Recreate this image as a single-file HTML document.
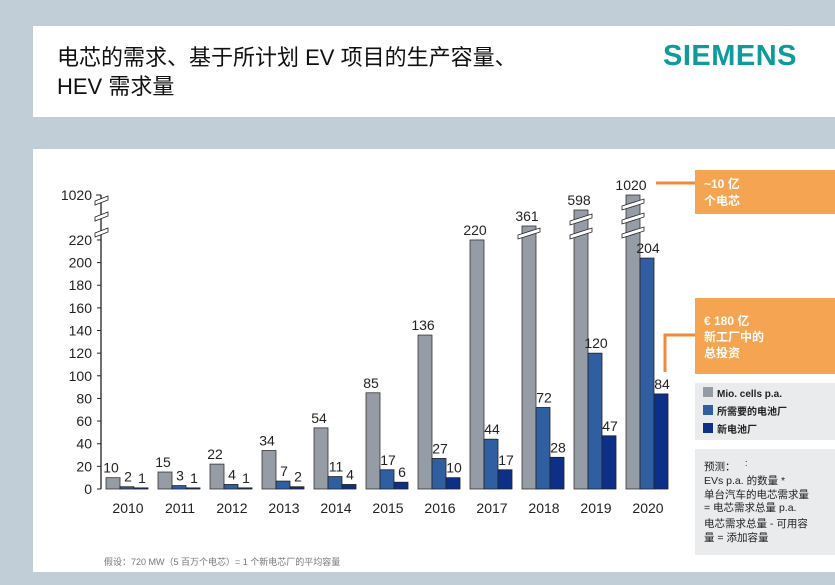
<!DOCTYPE html>
<html><head><meta charset="utf-8">
<style>
body{margin:0;width:835px;height:585px;background:#c2ced7;overflow:hidden;font-family:"Liberation Sans","Noto Sans CJK SC",sans-serif;}
.hd{position:absolute;left:33px;top:26px;width:802px;height:91px;background:#fff;}
.t{position:absolute;left:24px;top:17px;font-size:22px;line-height:29px;color:#111;}
.logo{position:absolute;left:630px;top:14px;font-size:29px;font-weight:bold;color:#0f9a9b;letter-spacing:0.5px;}
.ch{position:absolute;left:33px;top:149px;width:802px;height:423px;background:#fff;}
svg{position:absolute;left:0;top:0;}
</style></head><body>
<div class="hd"><div class="t">电芯的需求、基于所计划 EV 项目的生产容量、<br>HEV 需求量</div><div class="logo">SIEMENS</div></div>
<div class="ch"></div>
<svg id="s" width="835" height="585" font-family="Liberation Sans, Noto Sans CJK SC, sans-serif"></svg>
<script>
var s='';
var g=[10,15,22,34,54,85,136,220,361,598,1020],b=[2,3,4,7,11,17,27,44,72,120,204],d=[1,1,1,2,4,6,10,17,28,47,84];
var brk=[226,210,195];
function Y(v){return 489-v*1.132;}
// axis
s+='<line x1="101" y1="489" x2="101" y2="195" stroke="#222" stroke-width="1.3"/>';
for(var v=0;v<=220;v+=20){var y=Y(v);s+='<line x1="97" y1="'+y+'" x2="101" y2="'+y+'" stroke="#222"/><text x="92" y="'+(y+5)+'" font-size="14" text-anchor="end" fill="#222">'+v+'</text>';}
s+='<line x1="96" y1="195" x2="101" y2="195" stroke="#222"/><text x="92" y="200" font-size="14" text-anchor="end" fill="#222">1020</text>';
[199,215,231].forEach(function(y){s+='<polygon points="95,'+(y+2)+' 108,'+(y-3)+' 108,'+(y+1)+' 95,'+(y+6)+'" fill="#fff" stroke="#222" stroke-width="0.8"/>';});
for(var i=0;i<11;i++){
 var x=106+52*i;
 var gt=i<8?Y(g[i]):brk[i-8];
 s+='<rect x="'+x+'" y="'+gt+'" width="14" height="'+(489-gt)+'" fill="#959ca6" stroke="#333" stroke-width="0.8"/>';
 var bt=Y(b[i]),dt=Y(d[i]);
 s+='<rect x="'+(x+14)+'" y="'+bt+'" width="14" height="'+(489-bt)+'" fill="#2f5fa0" stroke="#222" stroke-width="0.8"/>';
 s+='<rect x="'+(x+28)+'" y="'+dt+'" width="14" height="'+(489-dt)+'" fill="#0d2f87" stroke="#222" stroke-width="0.8"/>';
 var bl=[];if(i==8)bl=[232];if(i==9)bl=[218,232];if(i==10)bl=[203,217,231];
 bl.forEach(function(y){s+='<polygon points="'+(x-4)+','+(y+3)+' '+(x+18)+','+(y-4)+' '+(x+18)+','+(y)+' '+(x-4)+','+(y+7)+'" fill="#fff" stroke="#222" stroke-width="0.8"/>';});
 s+='<text x="'+(x+5)+'" y="'+(gt-5)+'" font-size="14" text-anchor="middle" fill="#222">'+g[i]+'</text>';
 s+='<text x="'+(x+22)+'" y="'+(bt-5)+'" font-size="14" text-anchor="middle" fill="#222">'+b[i]+'</text>';
 s+='<text x="'+(x+36)+'" y="'+(dt-5)+'" font-size="14" text-anchor="middle" fill="#222">'+d[i]+'</text>';
 s+='<text x="'+(x+22)+'" y="513" font-size="14" text-anchor="middle" fill="#222">'+(2010+i)+'</text>';
}
// callouts
s+='<line x1="656" y1="183" x2="695" y2="183" stroke="#ef8a3a" stroke-width="3"/>';
s+='<rect x="695" y="170" width="140" height="44" fill="#f5a552"/>';
s+='<text x="704" y="188" font-size="12" font-weight="bold" fill="#fff">~10 亿</text><text x="704" y="205" font-size="12" font-weight="bold" fill="#fff">个电芯</text>';
s+='<polyline points="665,372 665,335 695,335" fill="none" stroke="#ef8a3a" stroke-width="3"/>';
s+='<rect x="695" y="298" width="140" height="76" fill="#f5a552"/>';
s+='<text x="704" y="325" font-size="12" font-weight="bold" fill="#fff">€ 180 亿</text><text x="704" y="341" font-size="12" font-weight="bold" fill="#fff">新工厂中的</text><text x="704" y="357" font-size="12" font-weight="bold" fill="#fff">总投资</text>';
// legend
s+='<rect x="695" y="383" width="140" height="57" fill="#e9ebec"/>';
[['#959ca6','Mio. cells p.a.',397],['#2f5fa0','所需要的电池厂',415],['#0d2f87','新电池厂',433]].forEach(function(l){s+='<rect x="703" y="'+(l[2]-10)+'" width="10" height="10" fill="'+l[0]+'"/><text x="717" y="'+l[2]+'" font-size="10" font-weight="bold" fill="#222">'+l[1]+'</text>';});
s+='<rect x="695" y="449" width="140" height="106" fill="#e9ebec"/>';
s+='<text x="745" y="466" font-size="9" fill="#222">:</text>';
[['预测：',470],['EVs p.a. 的数量 *',484],['单台汽车的电芯需求量',498],['= 电芯需求总量 p.a.',511],['电芯需求总量 - 可用容',527],['量 = 添加容量',541]].forEach(function(l){s+='<text x="704" y="'+l[1]+'" font-size="10.5" fill="#222">'+l[0]+'</text>';});
s+='<text x="104" y="565" font-size="9" fill="#777">假设：720 MW（5 百万个电芯）= 1 个新电芯厂的平均容量</text>';
document.getElementById('s').innerHTML=s;
</script>
</body></html>
